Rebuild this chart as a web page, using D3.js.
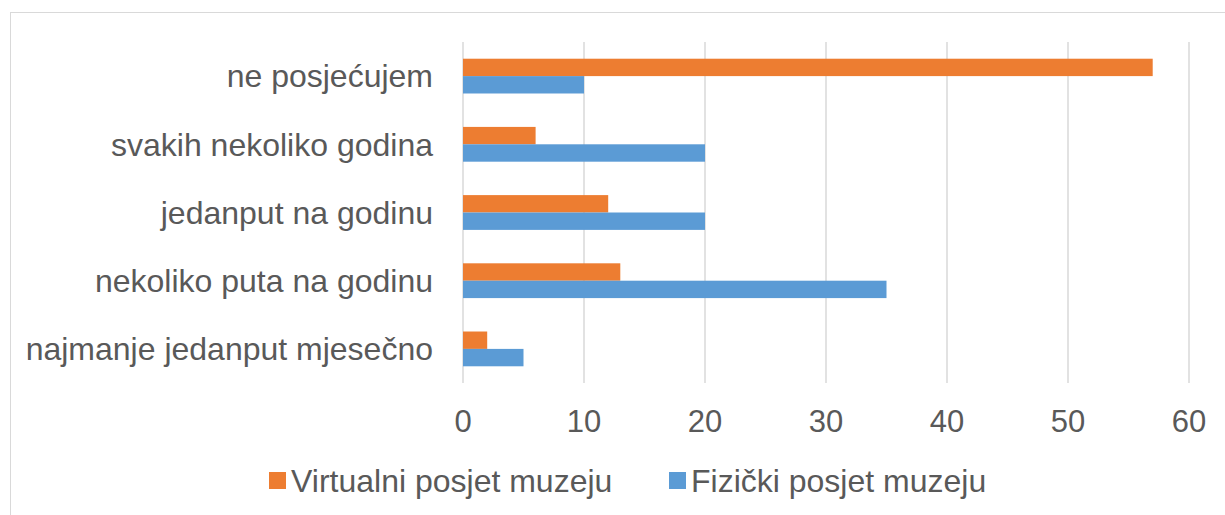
<!DOCTYPE html>
<html>
<head>
<meta charset="utf-8">
<script src="https://cdn.jsdelivr.net/npm/d3@7"></script>
<style>
  body { margin: 0; background: #fff; }
  text { font-family: "Liberation Sans", Arial, sans-serif; fill: #595959; }
</style>
</head>
<body>
<div id="chart"></div>
<script>
// Categories, top to bottom
const categories = [
  'ne posjećujem',
  'svakih nekoliko godina',
  'jedanput na godinu',
  'nekoliko puta na godinu',
  'najmanje jedanput mjesečno',
];
const seriesNames = ['Virtualni posjet muzeju', 'Fizički posjet muzeju'];
const virtualValues = [57, 6, 12, 13, 2];
const physicalValues = [10, 20, 20, 35, 5];
const xTicks = [0, 10, 20, 30, 40, 50, 60];
const colors = ['#ED7D31', '#5B9BD5'];

const width = 1225;
const height = 515;

const svg = d3.select('#chart').append('svg')
  .attr('width', width)
  .attr('height', height);

// Outer chart border
svg.append('rect')
  .attr('x', 10.5)
  .attr('y', 12.5)
  .attr('width', 1240)
  .attr('height', 540)
  .attr('fill', 'none')
  .attr('stroke', '#D9D9D9');

const x = d3.scaleLinear().domain([0, 60]).range([463, 1189]);
const y0 = d3.scaleBand()
  .domain(categories)
  .range([42, 383])
  .paddingInner(0.49)
  .paddingOuter(0.245);
const y1 = d3.scaleBand()
  .domain(seriesNames)
  .range([0, y0.bandwidth()]);

// Gridlines
svg.append('g')
  .selectAll('line')
  .data(xTicks)
  .enter()
  .append('line')
  .attr('x1', d => x(d))
  .attr('x2', d => x(d))
  .attr('y1', 42)
  .attr('y2', 383)
  .attr('stroke', '#D9D9D9')
  .attr('stroke-width', 1.5);

// Bars
const rows = categories.map((c, i) => ({
  category: c,
  values: [virtualValues[i], physicalValues[i]],
}));

const groups = svg.append('g')
  .selectAll('g')
  .data(rows)
  .enter()
  .append('g')
  .attr('transform', d => `translate(0, ${y0(d.category)})`);

groups.selectAll('rect')
  .data(d => d.values.map((v, j) => ({ name: seriesNames[j], value: v, j })))
  .enter()
  .append('rect')
  .attr('x', x(0))
  .attr('y', d => y1(d.name))
  .attr('width', d => x(d.value) - x(0))
  .attr('height', y1.bandwidth())
  .attr('fill', d => colors[d.j]);

// Category labels
svg.append('g')
  .selectAll('text')
  .data(categories)
  .enter()
  .append('text')
  .attr('x', 433)
  .attr('y', d => y0(d) + y0.bandwidth() / 2)
  .attr('dy', '0.35em')
  .attr('text-anchor', 'end')
  .attr('font-size', 32)
  .text(d => d);

// X tick labels
svg.append('g')
  .selectAll('text')
  .data(xTicks)
  .enter()
  .append('text')
  .attr('x', d => x(d))
  .attr('y', 432)
  .attr('text-anchor', 'middle')
  .attr('font-size', 31)
  .text(d => d);

// Legend
const legend = svg.append('g');
const legendX = [269, 669];
const items = legend.selectAll('g')
  .data(seriesNames)
  .enter()
  .append('g')
  .attr('transform', (d, i) => `translate(${legendX[i]}, 472)`);

items.append('rect')
  .attr('width', 17)
  .attr('height', 17)
  .attr('fill', (d, i) => colors[i]);

items.append('text')
  .attr('x', 22)
  .attr('y', 20)
  .attr('font-size', 32)
  .text(d => d);
</script>
</body>
</html>
